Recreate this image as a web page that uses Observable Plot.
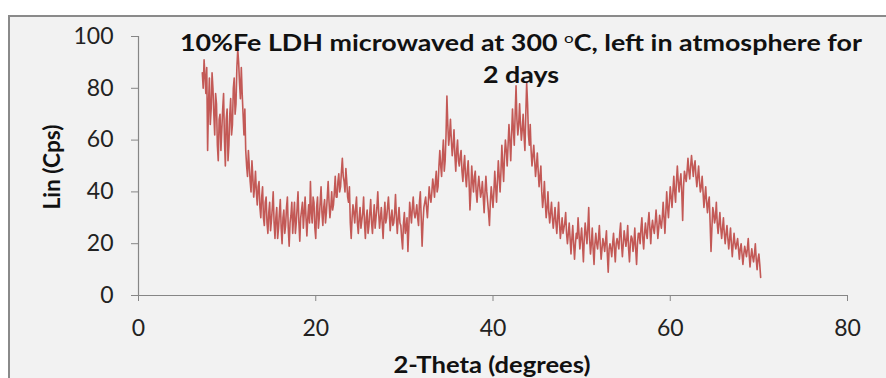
<!DOCTYPE html>
<html>
<head>
<meta charset="utf-8">
<script src="https://cdn.jsdelivr.net/npm/d3@7"></script>
<script src="https://cdn.jsdelivr.net/npm/@observablehq/plot@0.6"></script>
<style>
  html, body { margin: 0; padding: 0; background: #ffffff; }
  #wrap { position: relative; width: 886px; height: 378px; overflow: hidden; font-family: Lato, "Open Sans", sans-serif; }
  #frame { position: absolute; left: 8px; top: 15px; width: 900px; height: 420px; background: #f2f2f2; border: 2px solid #8a8a8a; box-sizing: border-box; }
  #chart { position: absolute; left: 0; top: 0; }
  .title { position: absolute; left: 521px; text-align: center; font-weight: bold; font-size: 22px; color: #111; white-space: nowrap; line-height: 1; }
  .title sup { font-size: 14px; vertical-align: 0; position: relative; top: -8px; font-weight: normal; }
  #ylab { position: absolute; left: 52px; top: 167px; font-weight: bold; font-size: 22px; color: #111; white-space: nowrap; line-height: 1; }
  #xlab { position: absolute; left: 492px; top: 354px; font-weight: bold; font-size: 22px; color: #111; white-space: nowrap; line-height: 1; }
</style>
</head>
<body>
<div id="wrap">
  <div id="frame"></div>
  <div id="chart"></div>
  <div class="title" id="t1" style="top:32px;">10%Fe LDH microwaved at 300 <sup>o</sup>C, left in atmosphere for</div>
  <div class="title" id="t2" style="top:64px;">2 days</div>
  <div id="ylab">Lin (Cps)</div>
  <div id="xlab">2-Theta (degrees)</div>
</div>
<script>
// Sampling grid: 2-Theta from 7.2 to 70.2 degrees, step 0.1
const thetaStart = 7.2;
const thetaStep = 0.1;

// Intensity (Lin, Cps) at 7.2, 7.4, ... 70.2 (rows of 10 = 2 degrees)
const intensityEven = [
  86,91,78,56,84,72,80,62,74,52,   // 7.2 - 9.0
  70,64,78,50,72,58,76,66,84,74,   // 9.2 - 11.0
  95,82,88,70,72,50,56,44,52,38,   // 11.2 - 13.0
  48,35,44,30,42,27,38,24,36,29,   // 13.2 - 15.0
  40,22,34,26,37,20,33,27,38,19,   // 15.2 - 17.0
  31,24,36,28,40,21,33,26,38,23,   // 17.2 - 19.0
  35,44,28,36,22,38,30,42,27,37,   // 19.2 - 21.0
  32,44,30,40,35,46,38,47,42,53,   // 21.2 - 23.0
  44,49,38,42,22,35,28,38,24,34,   // 23.2 - 25.0
  29,38,22,33,27,37,24,35,30,40,   // 25.2 - 27.0
  26,34,22,36,30,38,25,33,28,39,   // 27.2 - 29.0
  24,34,27,18,32,26,17,36,28,38,   // 29.2 - 31.0
  30,35,27,40,19,34,38,30,42,36,   // 31.2 - 33.0
  45,38,48,42,56,46,60,52,77,58,   // 33.2 - 35.0
  68,54,64,48,60,50,56,44,54,42,   // 35.2 - 37.0
  52,33,50,40,48,36,46,38,44,32,   // 37.2 - 39.0
  46,36,27,42,34,48,36,52,40,58,   // 39.2 - 41.0
  44,60,50,66,52,72,58,81,62,74,   // 41.2 - 43.0
  60,70,56,82,62,66,50,58,46,55,   // 43.2 - 45.0
  42,50,34,44,30,40,28,36,26,34,   // 45.2 - 47.0
  24,36,22,30,26,32,20,28,16,27,   // 47.2 - 49.0
  14,24,30,18,26,13,28,20,34,16,   // 49.2 - 51.0
  26,12,24,18,27,14,22,17,25,9,    // 51.2 - 53.0
  20,15,24,13,22,18,28,15,25,19,   // 53.2 - 55.0
  27,13,23,17,26,12,24,20,30,18,   // 55.2 - 57.0
  28,22,32,20,29,24,33,22,31,26,   // 57.2 - 59.0
  36,24,40,30,42,34,46,36,50,40,   // 59.2 - 61.0
  47,29,48,44,53,45,54,46,52,42,   // 61.2 - 63.0
  50,40,46,34,42,32,38,17,34,28,   // 63.2 - 65.0
  36,24,32,22,30,20,27,18,26,15,   // 65.2 - 67.0
  24,18,22,14,20,12,19,15,22,11,   // 67.2 - 69.0
  18,13,20,10,16,7                 // 69.2 - 70.2
];

// Intensity at 7.3, 7.5, ... 70.1 (rows of 10 = 2 degrees)
const intensityOdd = [
  80,85,88,74,66,86,70,78,58,68,   // 7.3 - 9.1
  56,72,60,68,52,70,62,80,70,88,   // 9.3 - 11.1
  90,76,78,62,56,46,50,40,46,42,   // 11.3 - 13.1
  40,42,34,38,30,36,28,32,25,34,   // 13.3 - 15.1
  28,30,22,32,26,30,24,34,26,28,   // 15.3 - 17.1
  36,30,24,34,28,30,36,32,30,30,   // 17.3 - 19.1
  28,32,38,26,34,26,36,32,34,28,   // 19.3 - 21.1
  38,36,34,33,40,38,44,40,48,46,   // 21.3 - 23.1
  40,44,36,28,30,32,34,28,30,26,   // 23.3 - 25.1
  32,28,30,24,32,28,30,26,34,32,   // 25.3 - 27.1
  30,28,30,28,34,32,30,27,32,30,   // 27.3 - 29.1
  30,28,22,28,24,30,26,32,34,32,   // 29.3 - 31.1
  32,30,36,30,28,36,34,36,38,40,   // 31.3 - 33.1
  42,44,40,50,50,54,48,62,66,62,   // 33.3 - 35.1
  60,58,54,56,52,54,48,50,46,48,   // 35.3 - 37.1
  44,40,44,46,40,42,42,40,38,40,   // 37.3 - 39.1
  40,32,36,38,40,42,44,46,48,50,   // 39.3 - 41.1
  54,56,58,60,62,64,70,68,66,66,   // 41.3 - 43.1
  64,62,70,74,58,56,54,52,50,48,   // 43.3 - 45.1
  46,40,38,36,34,32,32,30,30,28,   // 45.3 - 47.1
  30,28,26,24,28,24,24,22,22,20,   // 47.3 - 49.1
  20,22,24,22,20,22,24,26,22,20,   // 49.3 - 51.1
  18,20,20,22,20,18,20,21,16,18,   // 51.3 - 53.1
  18,20,18,20,20,24,20,20,22,22,   // 53.3 - 55.1
  18,20,22,20,18,20,24,26,22,24,   // 55.3 - 57.1
  24,28,26,26,26,28,28,26,28,30,   // 57.3 - 59.1
  30,32,34,36,38,40,40,44,44,44,   // 59.3 - 61.1
  40,42,46,48,48,50,50,50,46,46,   // 61.3 - 63.1
  44,42,40,38,36,36,28,26,32,30,   // 63.3 - 65.1
  28,28,26,26,24,24,22,22,20,20,   // 65.3 - 67.1
  20,20,18,18,16,16,17,18,16,15,   // 67.3 - 69.1
  15,16,14,14,12                   // 69.3 - 70.1
];

const xTicks = [0, 20, 40, 60, 80];
const yTicks = [0, 20, 40, 60, 80, 100];

// Merge the two readings into one table ordered by angle
const data = [];
intensityEven.forEach((v, i) => {
  data.push({ theta: Math.round((thetaStart + 2 * i * thetaStep) * 10) / 10, lin: v });
  if (i < intensityOdd.length) {
    data.push({ theta: Math.round((thetaStart + (2 * i + 1) * thetaStep) * 10) / 10, lin: intensityOdd[i] });
  }
});

const axisGray = "#868686";

const chart = Plot.plot({
  width: 886,
  height: 378,
  marginLeft: 138,
  marginRight: 39,
  marginTop: 36,
  marginBottom: 83,
  style: { background: "transparent", fontFamily: "Lato, 'Open Sans', sans-serif", fontSize: "23px", color: "#222" },
  x: { domain: [0, 80] },
  y: { domain: [0, 100] },
  marks: [
    Plot.ruleY([0], { stroke: axisGray, strokeWidth: 1.2 }),
    Plot.ruleX([0], { stroke: axisGray, strokeWidth: 1.2 }),
    Plot.axisX(xTicks, { tickSize: 6, tickPadding: 18, stroke: axisGray, fill: "#222", label: null }),
    Plot.axisY(yTicks, { tickSize: 7, tickPadding: 18, stroke: axisGray, fill: "#222", label: null }),
    Plot.line(data, { x: "theta", y: "lin", stroke: "#c0504d", strokeWidth: 1.6, strokeOpacity: 0.95 })
  ]
});

document.getElementById("chart").appendChild(chart);

// Stretch the horizontal texts to the widths seen in the reference
const t1 = document.getElementById("t1");
const t2 = document.getElementById("t2");
const s1 = 682 / t1.getBoundingClientRect().width;
t1.style.transform = `translateX(-50%) scaleX(${s1})`;
t2.style.transform = `translateX(-50%) scaleX(${s1})`;
const xl = document.getElementById("xlab");
const sx = 197 / xl.getBoundingClientRect().width;
xl.style.transform = `translateX(-50%) scaleX(${sx})`;
const yl = document.getElementById("ylab");
const sy = 85 / yl.getBoundingClientRect().width;
yl.style.transform = `translate(-50%, -50%) rotate(-90deg) scaleX(${sy})`;
</script>
</body>
</html>
